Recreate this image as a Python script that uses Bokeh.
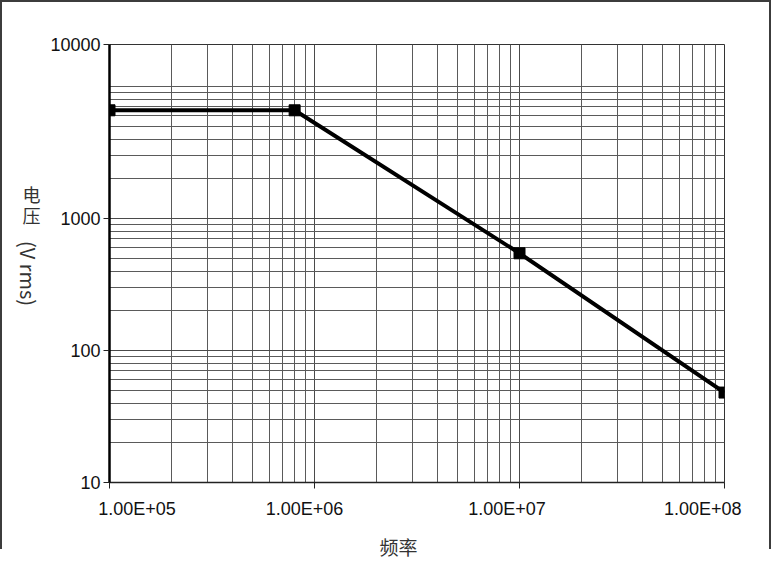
import math
from bokeh.plotting import figure
from bokeh.models import FixedTicker, Label, Range1d
from bokeh.embed import file_html
from bokeh.resources import INLINE

# ---- data ----
freq = [1e5, 8e5, 1e7, 1e8]          # 频率 (Hz)
volt = [6600, 6600, 545, 48]         # 电压 (V rms)

x_ticks = [1e5, 1e6, 1e7, 1e8]
x_tick_labels = ["1.00E+05", "1.00E+06", "1.00E+07", "1.00E+08"]
x_minor = [m * 10 ** e for e in (5, 6, 7) for m in range(2, 10)]

y_top = 20800.0                      # top border of the frame (labelled "10000" in the reference)
y_ticks = [10, 100, 1000, y_top]
y_tick_labels = ["10", "100", "1000", "10000"]
y_minor = [m * 10 ** e for e in (1, 2, 3) for m in range(2, 10)] + [10000]

x_label = "频率"
y_label_cjk = "电\n压"
y_label_unit = "(V rms)"

# ---- layout ----
W, H = 771, 575
FL, FT, FW, FH = 109, 44, 615, 438    # frame left/top/width/height (page px)
FB = FT + FH

p = figure(width=W, height=H, x_axis_type="log", y_axis_type="log",
           x_range=Range1d(x_ticks[0], x_ticks[-1]), y_range=Range1d(y_ticks[0], y_top),
           output_backend="svg", toolbar_location=None, title=None,
           min_border_left=FL, min_border_top=FT,
           min_border_right=W - FL - FW, min_border_bottom=H - FT - FH)

p.styles = {
    "background": ("linear-gradient(#3c3c3c,#3c3c3c) 0 0/2px 549px no-repeat, "
                   "linear-gradient(#3c3c3c,#3c3c3c) 100% 0/2px 549px no-repeat, "
                   "linear-gradient(#3c3c3c,#3c3c3c) 0 0/100% 2px no-repeat, #ffffff"),
}
p.border_fill_alpha = 0
p.background_fill_color = "white"
p.outline_line_color = "#333333"
p.outline_line_width = 1

# axes
p.xaxis.ticker = FixedTicker(ticks=x_ticks, minor_ticks=x_minor)
p.yaxis.ticker = FixedTicker(ticks=y_ticks, minor_ticks=y_minor)

# the reference's x labels sit a little off their ticks: shift them with no-break spaces
x_label_shift_px = [28, -10, -13, -14]
NBSP, NBSP_W = "\u00a0", 5.0          # width of a no-break space at 18px Liberation Sans


def shifted(s, dx):
    n = int(round(abs(dx) * 2 / NBSP_W))
    return NBSP * n + s if dx > 0 else s + NBSP * n


p.xaxis.major_label_overrides = {t: shifted(s, d) for t, s, d in zip(x_ticks, x_tick_labels, x_label_shift_px)}
p.yaxis.major_label_overrides = {t: s for t, s in zip(y_ticks, y_tick_labels)}

for ax in (p.xaxis, p.yaxis):
    ax.major_tick_out = 6
    ax.major_tick_in = 0
    ax.minor_tick_out = 0
    ax.minor_tick_in = 0
    ax.major_tick_line_color = "#222222"
    ax.major_label_text_font = "Liberation Sans"
    ax.major_label_text_font_size = "18px"
    ax.major_label_text_color = "#111111"
    ax.major_label_standoff = 3
p.xaxis.major_label_standoff = 10

p.yaxis.axis_line_width = 2.5
p.yaxis.axis_line_color = "#000000"
p.xaxis.axis_line_width = 1.5
p.xaxis.axis_line_color = "#222222"

# grid
for g in (p.xgrid, p.ygrid):
    g.grid_line_color = "#4a4a4a"
    g.grid_line_width = 1
    g.minor_grid_line_color = "#5a5a5a"
    g.minor_grid_line_width = 1

# data
p.line(freq, volt, line_width=4, line_color="black")
p.scatter(freq, volt, marker="square", size=11, fill_color="black", line_color="black")

# axis titles (placed in the side panels so they are not clipped to the frame)
cjk = dict(x_units="screen", y_units="screen", text_font="Noto Sans CJK SC",
           text_color="#333333", text_align="center", text_baseline="middle")
p.add_layout(Label(x=398 - FL, y=2, text=x_label, text_font_size="19px", **cjk), "below")
p.add_layout(Label(x=2, y=FB - 204, text=y_label_cjk, text_font_size="18px",
                   text_line_height=0.82, **cjk), "left")
p.add_layout(Label(x=28, y=FB - 273, text=y_label_unit, angle=-math.pi / 2,
                   text_font_size="20px", **cjk), "left")

open("out.html", "w").write(file_html(p, INLINE))
